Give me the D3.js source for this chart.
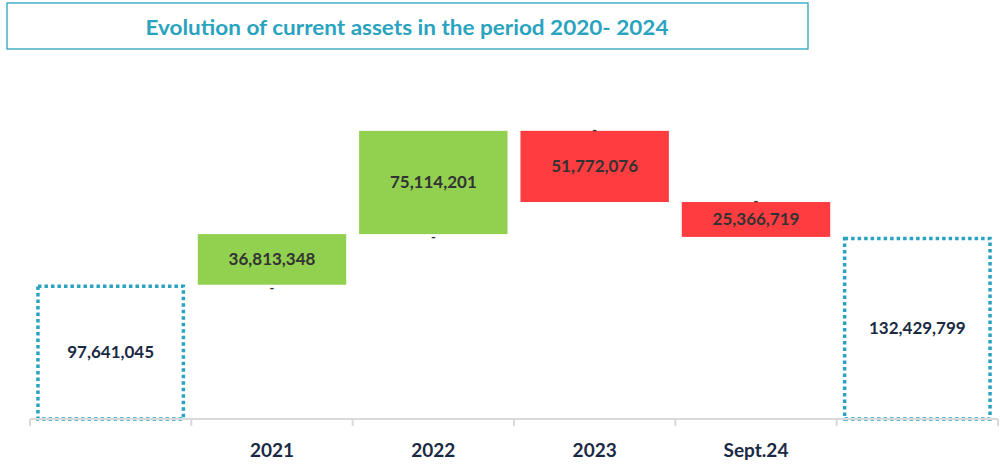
<!DOCTYPE html>
<html>
<head>
<meta charset="utf-8">
<script src="https://cdn.jsdelivr.net/npm/d3@7"></script>
<style>
  body { margin: 0; background: #fff; }
  svg text { font-family: Lato, "Open Sans", sans-serif; }
</style>
</head>
<body>
<svg width="1005" height="465"></svg>
<script>
  const categories = ['', '2021', '2022', '2023', 'Sept.24', ''];
  const values = [97641045, 36813348, 75114201, -51772076, -25366719, 132429799];
  const kinds = ['total', 'delta', 'delta', 'delta', 'delta', 'total'];
  const title = 'Evolution of current assets in the period 2020- 2024';

  const svg = d3.select('svg');

  const axisY = 419;
  const left = 30, right = 998;

  // running base for the waterfall
  let running = 0;
  const data = values.map((v, i) => {
    let lo, hi;
    if (kinds[i] === 'total') {
      lo = 0; hi = v; running = v;
    } else {
      lo = Math.min(running, running + v);
      hi = Math.max(running, running + v);
      running += v;
    }
    return { i, label: categories[i], value: v, kind: kinds[i], lo, hi };
  });

  const xScale = d3.scaleBand()
    .domain(data.map(d => d.i))
    .range([left, right])
    .paddingInner(0.08)
    .paddingOuter(0.04);

  const yScale = d3.scaleLinear()
    .domain([0, 220e6])
    .range([axisY, axisY - 220 * 1.375]);

  const fmt = d3.format(',');

  // title box
  svg.append('rect')
    .attr('x', 7).attr('y', 3)
    .attr('width', 801).attr('height', 46)
    .attr('fill', '#fff')
    .attr('stroke', '#2aa3bf')
    .attr('stroke-width', 1.3);
  svg.append('text')
    .attr('x', 407).attr('y', 35)
    .attr('text-anchor', 'middle')
    .attr('font-size', 21)
    .attr('font-weight', 'bold')
    .attr('fill', '#2aa3bf')
    .attr('textLength', 523)
    .attr('lengthAdjust', 'spacingAndGlyphs')
    .text(title);

  const g = svg.append('g');

  // bars
  g.selectAll('rect.bar').data(data)
    .enter().append('rect')
      .attr('class', 'bar')
      .attr('x', d => xScale(d.i) + (d.kind === 'total' ? 1.5 : 0))
      .attr('width', d => xScale.bandwidth() - (d.kind === 'total' ? 3 : 0))
      .attr('y', d => yScale(d.hi) + (d.kind === 'total' ? 1.5 : 0))
      .attr('height', d => yScale(d.lo) - yScale(d.hi) - (d.kind === 'total' ? 1.5 : 0))
      .attr('fill', d => d.kind === 'total' ? 'none' : (d.value > 0 ? '#92d050' : '#ff3c40'))
      .attr('stroke', d => d.kind === 'total' ? '#2aa3bf' : 'none')
      .attr('stroke-width', 3.5)
      .attr('stroke-dasharray', d => d.kind === 'total' ? '3.5,3' : null);

  // axis line and ticks
  g.append('line')
    .attr('x1', left).attr('x2', right)
    .attr('y1', axisY).attr('y2', axisY)
    .attr('stroke', '#d9d9d9').attr('stroke-width', 2);
  const step = xScale.step();
  g.selectAll('line.tick').data(d3.range(categories.length + 1))
    .enter().append('line')
      .attr('class', 'tick')
      .attr('x1', i => left + i * step).attr('x2', i => left + i * step)
      .attr('y1', axisY).attr('y2', axisY + 7)
      .attr('stroke', '#d9d9d9').attr('stroke-width', 2);

  // category labels
  g.selectAll('text.cat').data(data)
    .enter().append('text')
      .attr('class', 'cat')
      .attr('x', d => xScale(d.i) + xScale.bandwidth() / 2)
      .attr('y', 457)
      .attr('text-anchor', 'middle')
      .attr('font-size', 19)
      .attr('font-weight', 'bold')
      .attr('fill', '#1b2a44')
      .text(d => d.label);

  // value labels
  g.selectAll('text.val').data(data)
    .enter().append('text')
      .attr('class', 'val')
      .attr('x', d => xScale(d.i) + xScale.bandwidth() / 2)
      .attr('y', d => (yScale(d.hi) + yScale(d.lo)) / 2 + 6)
      .attr('text-anchor', 'middle')
      .attr('font-size', 17)
      .attr('font-weight', 'bold')
      .attr('fill', d => d.kind === 'total' ? '#1b2a44' : '#333')
      .text(d => fmt(Math.abs(d.value)));

  // small "-" markers for the empty base labels
  const deltas = data.filter(d => d.kind === 'delta');
  g.selectAll('text.dash').data(deltas)
    .enter().append('text')
      .attr('class', 'dash')
      .attr('x', d => xScale(d.i) + xScale.bandwidth() / 2)
      .attr('y', d => d.value > 0 ? yScale(d.lo) + 8 : yScale(d.hi) + 4)
      .attr('text-anchor', 'middle')
      .attr('font-size', 13)
      .attr('font-weight', 'bold')
      .attr('fill', '#333')
      .text('-');
</script>
</body>
</html>
